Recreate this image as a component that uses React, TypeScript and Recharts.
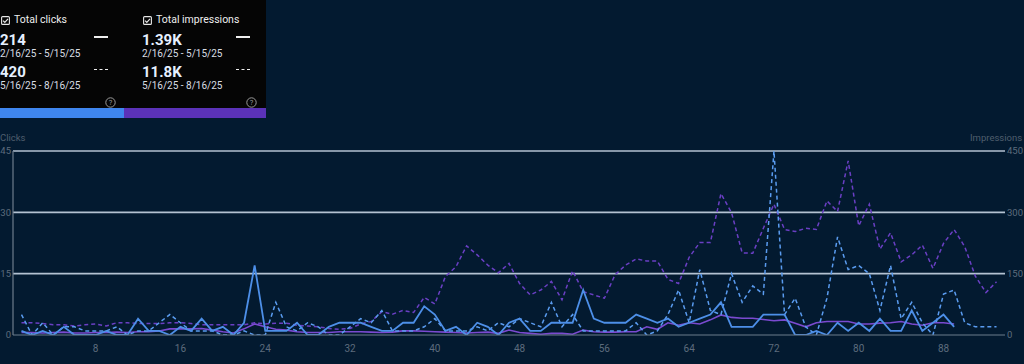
import React from 'react';
import { LineChart, Line, XAxis, YAxis, ReferenceLine } from 'recharts';

// Clicks, 2/16/25 - 5/15/25 (solid)
const clicksPrev = [1, 0, 1, 0, 2, 0, 0, 0, 1, 0, 0, 4, 1, 1, 0, 2, 1, 4, 1, 2, 0, 3, 17, 1, 1, 1, 3, 0, 0, 2, 3, 3, 3, 2, 1, 1, 3, 3, 7, 5, 1, 2, 0, 3, 2, 0, 3, 4, 1, 1, 3, 3, 3, 11, 4, 3, 3, 3, 5, 4, 3, 4, 2, 3, 4, 5, 8, 2, 2, 2, 5, 5, 5, 0, 0, 1, 0, 3, 1, 3, 1, 4, 1, 1, 6, 1, 3, 5, 2];
// Clicks, 5/16/25 - 8/16/25 (dashed)
const clicksCur = [5, 0, 3, 0, 2, 2, 1, 1, 1, 2, 0, 1, 1, 3, 5, 3, 1, 1, 1, 0, 0, 1, 0, 0, 8, 2, 1, 3, 2, 0, 0, 2, 4, 3, 6, 1, 1, 1, 2, 4, 1, 1, 1, 2, 1, 3, 2, 4, 3, 2, 8, 2, 5, 1, 1, 1, 1, 1, 3, 0, 1, 5, 11, 3, 16, 6, 5, 15, 8, 12, 10, 45, 5, 9, 2, 0, 9, 24, 16, 17, 15, 6, 17, 4, 8, 3, 0, 10, 11, 3, 2, 2, 2];
// Impressions, 2/16/25 - 5/15/25 (solid)
const imprPrev = [6, 6, 5, 6, 7, 5, 5, 6, 6, 7, 6, 8, 8, 10, 15, 15, 15, 16, 12, 8, 5, 15, 27, 20, 14, 12, 8, 6, 6, 6, 8, 8, 8, 7, 6, 7, 10, 10, 9, 8, 7, 6, 5, 6, 7, 4, 12, 6, 4, 2, 4, 4, 2, 12, 8, 7, 7, 8, 8, 20, 14, 30, 24, 30, 27, 37, 49, 43, 41, 41, 38, 35, 37, 29, 20, 30, 33, 33, 33, 27, 27, 29, 30, 33, 27, 24, 30, 30, 27];
// Impressions, 5/16/25 - 8/16/25 (dashed)
const imprCur = [30, 30, 28, 25, 25, 22, 25, 27, 22, 30, 30, 28, 28, 28, 30, 30, 28, 25, 25, 25, 25, 25, 30, 27, 29, 29, 24, 22, 20, 16, 14, 16, 27, 33, 57, 51, 60, 55, 92, 76, 143, 167, 218, 196, 171, 152, 175, 126, 98, 110, 131, 86, 157, 106, 98, 90, 147, 171, 186, 181, 181, 136, 126, 190, 226, 226, 346, 299, 201, 200, 261, 320, 258, 253, 261, 258, 328, 302, 426, 267, 320, 210, 250, 179, 196, 220, 163, 224, 258, 216, 144, 104, 130];

const xTicks = [8, 16, 24, 32, 40, 48, 56, 64, 72, 80, 88];
const clickTicks = [0, 15, 30, 45];
const imprTicks = [0, 150, 300, 450];
const gridClicks = [15, 30, 45];

const data = Array.from({ length: Math.max(clicksCur.length, imprCur.length) }, (_, k) => ({
  day: k + 1,
  c1: clicksPrev[k],
  c2: clicksCur[k],
  i1: imprPrev[k],
  i2: imprCur[k],
}));

const BG = '#031a30';
const TICK = '#5d6c7d';
const BLUE = '#4d8fe8';
const BLUE2 = '#5a9cf0';
const PURPLE = '#7a4ad0';
const PURPLE2 = '#6a3fc4';

const Check = ({ x, y }: { x: number; y: number }) => (
  <svg style={{ position: 'absolute', left: x, top: y }} width={9} height={9} viewBox="0 0 9 9">
    <rect x={0.6} y={0.6} width={7.8} height={7.8} rx={1} fill="none" stroke="#e6e6e6" strokeWidth={1.1} />
    <path d="M2 4.6 L3.8 6.3 L7 2.8" fill="none" stroke="#e6e6e6" strokeWidth={1.2} />
  </svg>
);

const Help = ({ x, y }: { x: number; y: number }) => (
  <svg style={{ position: 'absolute', left: x, top: y }} width={11} height={11} viewBox="0 0 11 11">
    <circle cx={5.5} cy={5.5} r={4.7} fill="none" stroke="#9a9a9a" strokeWidth={1} />
    <text x={5.5} y={8.2} textAnchor="middle" fontSize={7.5} fill="#9a9a9a" fontFamily="Roboto">?</text>
  </svg>
);

const abs = (left: number, top: number, extra: React.CSSProperties = {}): React.CSSProperties => ({
  position: 'absolute',
  left,
  top,
  whiteSpace: 'nowrap',
  lineHeight: 1,
  ...extra,
});

const Card = ({ x, label, v1, v2 }: { x: number; label: string; v1: string; v2: string }) => (
  <>
    <Check x={x + 1} y={16} />
    <div style={abs(x + 14, 15, { fontSize: 10.5, color: '#eeeeee' })}>{label}</div>
    <div style={abs(x, 33, { fontSize: 15, fontWeight: 700, color: '#e6f0ff' })}>{v1}</div>
    <div style={abs(x, 49, { fontSize: 10, color: '#d8dde4' })}>2/16/25 - 5/15/25</div>
    <div style={abs(x, 65, { fontSize: 15, fontWeight: 700, color: '#e6f0ff' })}>{v2}</div>
    <div style={abs(x, 81, { fontSize: 10, color: '#d8dde4' })}>5/16/25 - 8/16/25</div>
    <div style={{ position: 'absolute', left: x + 94, top: 36, width: 14, height: 1.6, background: '#eeeeee' }} />
    <div style={{ position: 'absolute', left: x + 94, top: 69, width: 14, height: 0, borderTop: '1.6px dashed #eeeeee' }} />
  </>
);

export default function App() {
  return (
    <div
      style={{
        position: 'absolute',
        left: 0,
        top: 0,
        width: 1024,
        height: 364,
        background: BG,
        overflow: 'hidden',
        fontFamily: 'Roboto, sans-serif',
      }}
    >
      <LineChart width={1024} height={364} data={data} margin={{ top: 151, right: 0, bottom: 0, left: 0 }}>
        <XAxis
          dataKey="day"
          type="number"
          domain={[0.2, 93.8]}
          allowDataOverflow
          ticks={xTicks}
          height={29}
          tickLine={false}
          tickSize={0}
          tickMargin={10}
          axisLine={{ stroke: '#6d7c8c', strokeWidth: 1.2 }}
          tick={{ fill: TICK, fontSize: 10 }}
        />
        <YAxis
          yAxisId="left"
          orientation="left"
          width={13}
          domain={[0, 45]}
          ticks={clickTicks}
          allowDataOverflow
          tickLine={false}
          tickSize={0}
          tickMargin={2}
          axisLine={{ stroke: '#6d7c8c', strokeWidth: 1.2 }}
          tick={{ fill: TICK, fontSize: 9.5 }}
        />
        <YAxis
          yAxisId="right"
          orientation="right"
          width={19}
          domain={[0, 450]}
          ticks={imprTicks}
          allowDataOverflow
          tickLine={false}
          tickSize={0}
          tickMargin={2}
          axisLine={false}
          tick={{ fill: TICK, fontSize: 9.5, textAnchor: 'start' }}
        />
        {gridClicks.map((g) => (
          <ReferenceLine key={g} yAxisId="left" y={g} stroke="#b4c2d2" strokeWidth={1.6} />
        ))}
        <Line yAxisId="right" dataKey="i1" stroke={PURPLE} strokeWidth={1.6} dot={false} isAnimationActive={false} type="linear" />
        <Line yAxisId="right" dataKey="i2" stroke={PURPLE2} strokeWidth={1.5} strokeDasharray="4 3" dot={false} isAnimationActive={false} type="linear" />
        <Line yAxisId="left" dataKey="c2" stroke={BLUE2} strokeWidth={1.5} strokeDasharray="4 3" dot={false} isAnimationActive={false} type="linear" />
        <Line yAxisId="left" dataKey="c1" stroke={BLUE} strokeWidth={1.8} dot={false} isAnimationActive={false} type="linear" />
      </LineChart>

      <div style={abs(0, 133, { fontSize: 9.5, color: '#4f5e6e' })}>Clicks</div>
      <div style={abs(970, 133, { fontSize: 9.5, color: '#4f5e6e' })}>Impressions</div>

      <div style={{ position: 'absolute', left: 0, top: 0, width: 266, height: 118, background: '#050505' }}>
        <Card x={0} label="Total clicks" v1="214" v2="420" />
        <Card x={142} label="Total impressions" v1="1.39K" v2="11.8K" />
        <Help x={105} y={97} />
        <Help x={246} y={97} />
        <div style={{ position: 'absolute', left: 0, top: 108, width: 124, height: 10, background: '#3f86ee' }} />
        <div style={{ position: 'absolute', left: 124, top: 108, width: 142, height: 10, background: '#5b32b8' }} />
      </div>
    </div>
  );
}
